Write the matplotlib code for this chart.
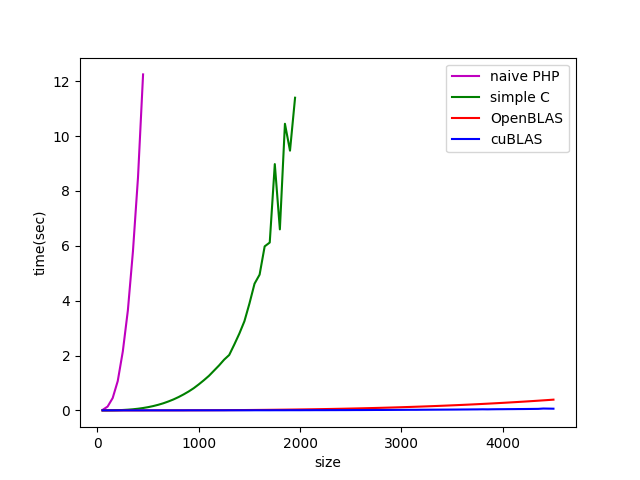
import numpy as np
import matplotlib
matplotlib.use('Agg')
import matplotlib.pyplot as plt

# matrix sizes (step 50)
size_php = np.arange(50, 451, 50)
size_c = np.arange(50, 1951, 50)
size_blas = np.arange(50, 4501, 50)

# timings in seconds
t_php = [0.017, 0.14, 0.45, 1.07, 2.15, 3.65, 5.8, 8.5, 12.25]

t_c = [0.0001, 0.001, 0.003, 0.008, 0.015, 0.026, 0.041, 0.061, 0.087, 0.119,
       0.158, 0.205, 0.26, 0.326, 0.40, 0.486, 0.583, 0.69, 0.81, 0.95,
       1.10, 1.26, 1.45, 1.64, 1.85, 2.02, 2.40, 2.80, 3.25, 3.90,
       4.62, 4.95, 5.98, 6.12, 8.98, 6.60, 10.45, 9.47, 11.40]

t_openblas = [0.000, 0.000, 0.000, 0.000, 0.000, 0.000, 0.000, 0.000, 0.000, 0.001,
              0.001, 0.001, 0.0012, 0.0015, 0.0018, 0.0022, 0.0026, 0.0031, 0.0037, 0.0043,
              0.0050, 0.0057, 0.0065, 0.0074, 0.0084, 0.0094, 0.0106, 0.0118, 0.0131, 0.0145,
              0.0160, 0.0176, 0.0193, 0.0211, 0.0230, 0.0251, 0.0272, 0.0295, 0.0319, 0.0344,
              0.0370, 0.0398, 0.0427, 0.0458, 0.0490, 0.0523, 0.0558, 0.0594, 0.0632, 0.0672,
              0.0713, 0.0756, 0.0800, 0.0846, 0.0894, 0.0944, 0.0995, 0.1049, 0.1104, 0.1161,
              0.1220, 0.1281, 0.1344, 0.1409, 0.1476, 0.1545, 0.1617, 0.1690, 0.1766, 0.1844,
              0.1924, 0.2006, 0.2091, 0.2178, 0.2268, 0.2360, 0.2454, 0.2551, 0.2650, 0.2752,
              0.2857, 0.2964, 0.3073, 0.3186, 0.3301, 0.3419, 0.3540, 0.3663, 0.3789, 0.3918]

t_cublas = [0.002, 0.002, 0.002, 0.002, 0.002, 0.002, 0.002, 0.002, 0.002, 0.002,
            0.002, 0.002, 0.002, 0.002, 0.002, 0.002, 0.002, 0.003, 0.003, 0.003,
            0.003, 0.003, 0.003, 0.003, 0.003, 0.004, 0.004, 0.004, 0.004, 0.004,
            0.005, 0.005, 0.005, 0.005, 0.006, 0.006, 0.006, 0.007, 0.007, 0.007,
            0.008, 0.008, 0.009, 0.009, 0.009, 0.010, 0.010, 0.011, 0.011, 0.012,
            0.013, 0.013, 0.014, 0.015, 0.016, 0.016, 0.017, 0.018, 0.019, 0.020,
            0.021, 0.022, 0.022, 0.024, 0.025, 0.026, 0.027, 0.028, 0.029, 0.030,
            0.031, 0.033, 0.034, 0.036, 0.037, 0.040, 0.038, 0.041, 0.043, 0.044,
            0.046, 0.047, 0.049, 0.050, 0.052, 0.054, 0.056, 0.068, 0.065, 0.062]

fig, ax = plt.subplots(figsize=(6.4, 4.8), dpi=100)

ax.plot(size_php, t_php, 'm', label='naive PHP')
ax.plot(size_c, t_c, 'g', label='simple C')
ax.plot(size_blas, t_openblas, 'r', label='OpenBLAS')
ax.plot(size_blas, t_cublas, 'b', label='cuBLAS')

ax.set_xlabel('size')
ax.set_ylabel('time(sec)')
ax.legend()

plt.savefig('out.png')
